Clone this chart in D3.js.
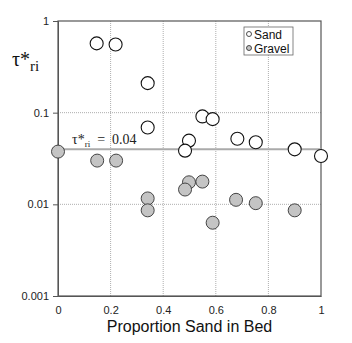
<!DOCTYPE html>
<html>
<head>
<meta charset="utf-8">
<script src="https://cdn.jsdelivr.net/npm/d3@7"></script>
<style>
  body { margin: 0; background: #fff; }
  svg { display: block; }
</style>
</head>
<body>
<div id="chart"></div>
<script>
// data
const sandX = [0.147, 0.219, 0.341, 0.341, 0.549, 0.588, 0.498, 0.483, 0.682, 0.752, 0.9, 1.0];
const sandY = [0.57, 0.555, 0.21, 0.069, 0.091, 0.085, 0.0495, 0.0385, 0.052, 0.0475, 0.0398, 0.0337];
const gravelX = [0, 0.149, 0.221, 0.341, 0.341, 0.498, 0.483, 0.549, 0.588, 0.677, 0.752, 0.9];
const gravelY = [0.0376, 0.030, 0.030, 0.0116, 0.0086, 0.0174, 0.0145, 0.0177, 0.0063, 0.0112, 0.0103, 0.0086];
const xTicks = [0, 0.2, 0.4, 0.6, 0.8, 1];
const yTicks = [0.001, 0.01, 0.1, 1];
const refValue = 0.04;

const width = 352;
const height = 343;
const margin = { top: 21, right: 31, bottom: 47, left: 58 };

const svg = d3.select("#chart")
  .append("svg")
  .attr("width", width)
  .attr("height", height);

const x = d3.scaleLinear()
  .domain([0, 1])
  .range([margin.left, width - margin.right]);

const y = d3.scaleLog()
  .domain([0.001, 1])
  .range([height - margin.bottom, margin.top]);

// grid
svg.append("g")
  .selectAll("line")
  .data(xTicks.slice(1, -1))
  .join("line")
  .attr("x1", d => x(d)).attr("x2", d => x(d))
  .attr("y1", y(1)).attr("y2", y(0.001))
  .attr("stroke", "#999")
  .attr("stroke-width", 0.8)
  .attr("stroke-dasharray", "1,1");

svg.append("g")
  .selectAll("line")
  .data(yTicks.slice(1, -1))
  .join("line")
  .attr("x1", x(0)).attr("x2", x(1))
  .attr("y1", d => y(d)).attr("y2", d => y(d))
  .attr("stroke", "#999")
  .attr("stroke-width", 0.8)
  .attr("stroke-dasharray", "1,1");

// frame
svg.append("rect")
  .attr("x", x(0)).attr("y", y(1))
  .attr("width", x(1) - x(0))
  .attr("height", y(0.001) - y(1))
  .attr("fill", "none")
  .attr("stroke", "#555")
  .attr("stroke-width", 1.2);

// axes
const yAxis = svg.append("g")
  .attr("transform", `translate(${margin.left},0)`)
  .call(d3.axisLeft(y).tickValues(yTicks).tickFormat(d3.format("~g")).tickSize(5).tickPadding(4));
yAxis.select(".domain").attr("stroke", "#555");
yAxis.selectAll(".tick line").attr("stroke", "#555");
yAxis.selectAll("text")
  .attr("font-family", "Liberation Sans, Arial, sans-serif")
  .attr("font-size", 11)
  .attr("fill", "#222");

const xAxis = svg.append("g")
  .attr("transform", `translate(0,${height - margin.bottom})`)
  .call(d3.axisBottom(x).tickValues(xTicks).tickFormat(d3.format("~g")).tickSize(0).tickPadding(10));
xAxis.select(".domain").attr("stroke", "#555");
xAxis.selectAll("text")
  .attr("font-family", "Liberation Sans, Arial, sans-serif")
  .attr("font-size", 11)
  .attr("fill", "#222");

// reference line
svg.append("line")
  .attr("x1", x(0)).attr("x2", x(1))
  .attr("y1", y(refValue)).attr("y2", y(refValue))
  .attr("stroke", "#aaa")
  .attr("stroke-width", 2);

const refLabel = svg.append("text")
  .attr("x", x(0) + 14)
  .attr("y", y(refValue) - 5)
  .attr("font-family", "Liberation Serif, Times New Roman, serif")
  .attr("font-size", 14)
  .attr("fill", "#222");
refLabel.append("tspan").text("τ*");
refLabel.append("tspan").attr("font-size", 9).attr("dy", 3).text("ri");
refLabel.append("tspan").attr("dy", -3).attr("xml:space", "preserve").text("  =  0.04");

// points
svg.append("g")
  .selectAll("circle")
  .data(sandX.map((d, i) => [d, sandY[i]]))
  .join("circle")
  .attr("cx", d => x(d[0]))
  .attr("cy", d => y(d[1]))
  .attr("r", 6.5)
  .attr("fill", "#fff")
  .attr("stroke", "#111")
  .attr("stroke-width", 1.1);

svg.append("g")
  .selectAll("circle")
  .data(gravelX.map((d, i) => [d, gravelY[i]]))
  .join("circle")
  .attr("cx", d => x(d[0]))
  .attr("cy", d => y(d[1]))
  .attr("r", 6.5)
  .attr("fill", "#c4c4c4")
  .attr("stroke", "#333")
  .attr("stroke-width", 0.9);

// y title
const yTitle = svg.append("text")
  .attr("x", 12)
  .attr("y", 66)
  .attr("font-family", "Liberation Serif, Times New Roman, serif")
  .attr("font-size", 20)
  .attr("fill", "#111");
yTitle.append("tspan").text("τ*");
yTitle.append("tspan").attr("font-size", 15).attr("dy", 5).text("ri");

// x title
svg.append("text")
  .attr("x", (x(0) + x(1)) / 2)
  .attr("y", 332)
  .attr("text-anchor", "middle")
  .attr("font-family", "Liberation Sans, Arial, sans-serif")
  .attr("font-size", 16)
  .attr("fill", "#111")
  .text("Proportion Sand in Bed");

// legend
const legend = svg.append("g").attr("transform", "translate(244,27)");
legend.append("rect")
  .attr("width", 49).attr("height", 28)
  .attr("fill", "#fff")
  .attr("stroke", "#666")
  .attr("stroke-width", 0.8);
const items = [{ name: "Sand", fill: "#fff" }, { name: "Gravel", fill: "#c4c4c4" }];
const li = legend.selectAll("g")
  .data(items)
  .join("g")
  .attr("transform", (d, i) => `translate(0,${7 + i * 14})`);
li.append("circle")
  .attr("cx", 5).attr("cy", 0).attr("r", 2.5)
  .attr("fill", d => d.fill)
  .attr("stroke", "#222")
  .attr("stroke-width", 0.8);
li.append("text")
  .attr("x", 10).attr("y", 4.5)
  .attr("font-family", "Liberation Sans, Arial, sans-serif")
  .attr("font-size", 12)
  .attr("fill", "#111")
  .text(d => d.name);
</script>
</body>
</html>
